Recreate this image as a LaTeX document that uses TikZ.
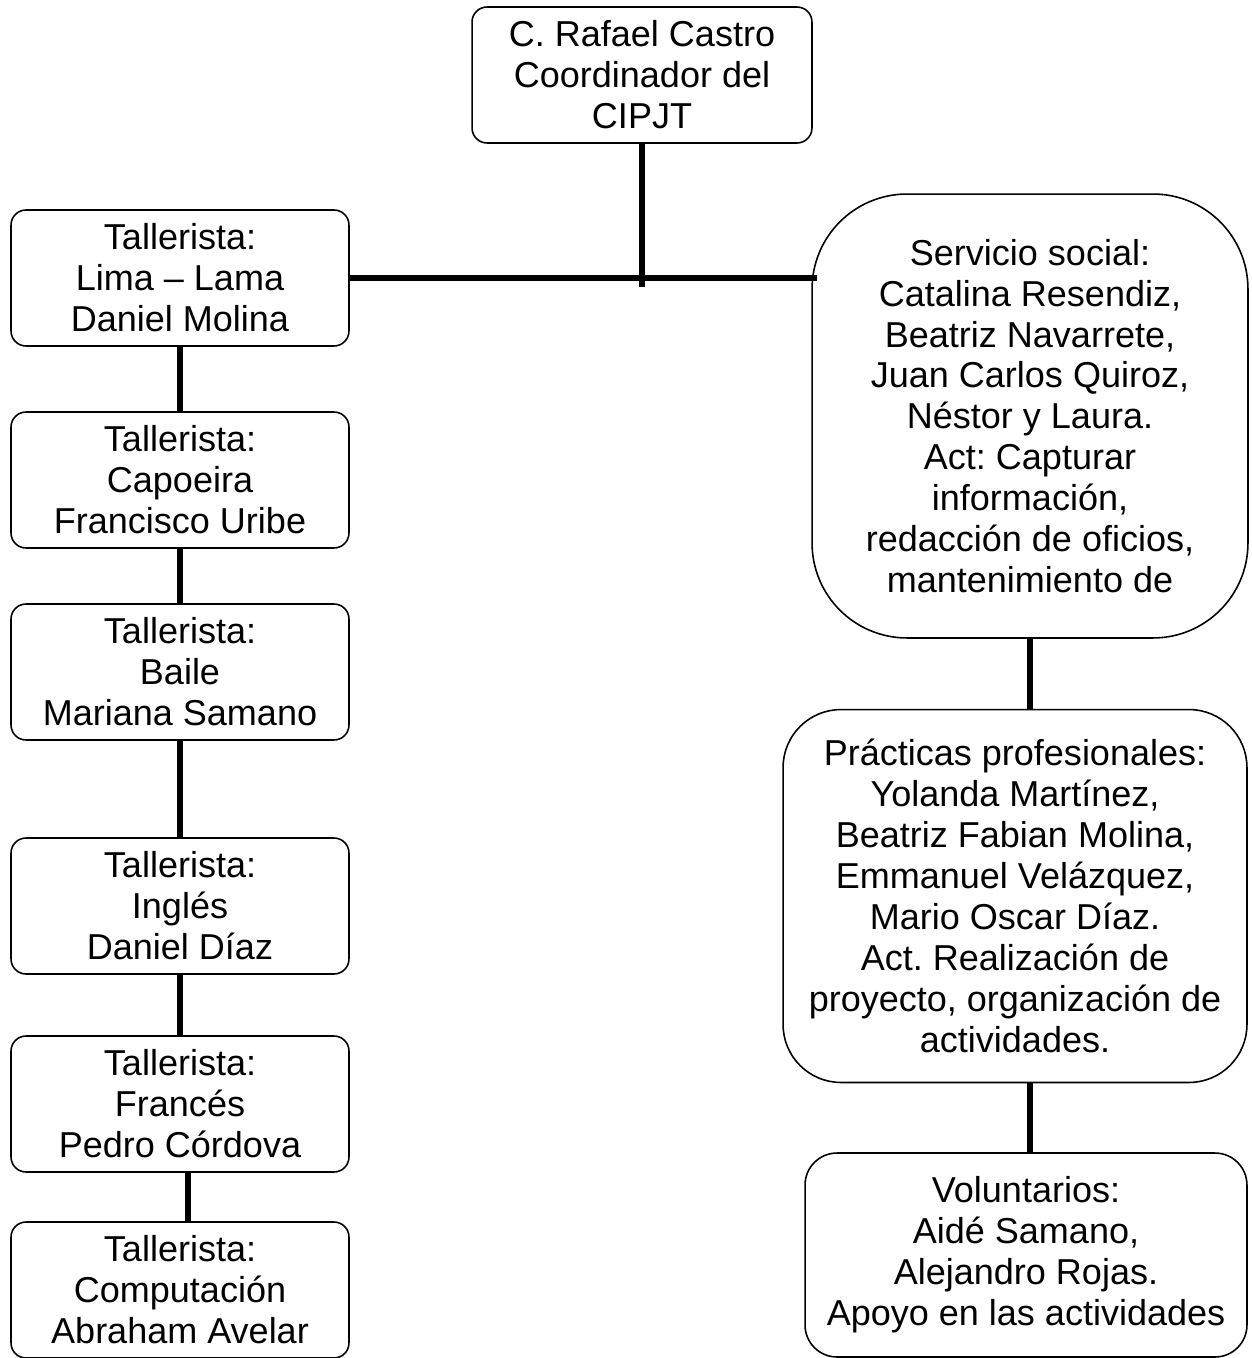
\documentclass[tikz,border=0pt]{standalone}
\usepackage{fontspec}
\setmainfont{Liberation Sans}
\frenchspacing
\usetikzlibrary{positioning}
\tikzset{
  unit/.style={draw,rectangle,rounded corners=0.3cm,line width=0.9pt,
    align=center,inner sep=0pt,font=\fontsize{20.5}{23.3}\selectfont},
  taller/.style={unit,minimum width=6.76cm,minimum height=2.72cm},
  links/.style={
    every edge/.style={draw,line width=3.3pt}
  },
  organigrama/.style={x=0.02cm,y=-0.02cm}
}

\begin{document}
\begin{tikzpicture}[organigrama]
      \useasboundingbox (0,0) rectangle (1251,1358);

      \node[unit,minimum width=6.8cm,minimum height=2.72cm] (coord) at (642,75)
        {C. Rafael Castro\\Coordinador del\\CIPJT};

      % talleristas
      \node[taller] (t1) at (180,278) {Tallerista:\\Lima -- Lama\\Daniel Molina};
      \node[taller] (t2) at (180,480) {Tallerista:\\Capoeira\\Francisco Uribe};
      \node[taller] (t3) at (180,672) {Tallerista:\\Baile\\Mariana Samano};
      \node[taller] (t4) at (180,906) {Tallerista:\\Inglés\\Daniel Díaz};
      \node[taller] (t5) at (180,1104) {Tallerista:\\Francés\\Pedro Córdova};
      \node[taller] (t6) at (180,1290) {Tallerista:\\Computación\\Abraham Avelar};

      % apoyo
      \node[unit,rounded corners=1.9cm,minimum width=8.72cm,minimum height=8.88cm] (ss) at (1030,416)
        {Servicio social:\\Catalina Resendiz,\\Beatriz Navarrete,\\Juan Carlos Quiroz,\\Néstor y Laura.\\Act: Capturar\\información,\\redacción de oficios,\\mantenimiento de};
      \node[unit,rounded corners=1.16cm,minimum width=9.28cm,minimum height=7.46cm] (pp) at (1015,896)
        {Prácticas profesionales:\\Yolanda Martínez,\\Beatriz Fabian Molina,\\Emmanuel Velázquez,\\Mario Oscar Díaz.\\Act. Realización de\\proyecto, organización de\\actividades.};
      \node[unit,rounded corners=0.64cm,minimum width=8.84cm,minimum height=4.08cm] (vol) at (1026,1255)
        {Voluntarios:\\Aidé Samano,\\Alejandro Rojas.\\Apoyo en las actividades};

      \coordinate (tee) at (642,287);
      \coordinate (hook) at (817,278);

      \path[links]
      (coord) edge (tee)
      (t1) edge (hook)
      (t1) edge (t2)
      (t2) edge (t3)
      (t3) edge (t4)
      (t4) edge (t5)
      ([xshift=0.16cm]t5.south) edge ([xshift=0.16cm]t6.north)
      (ss) edge (ss.south |- pp.north)
      (ss.south |- pp.south) edge (ss.south |- vol.north)
      ;
    \end{tikzpicture}
\end{document}
